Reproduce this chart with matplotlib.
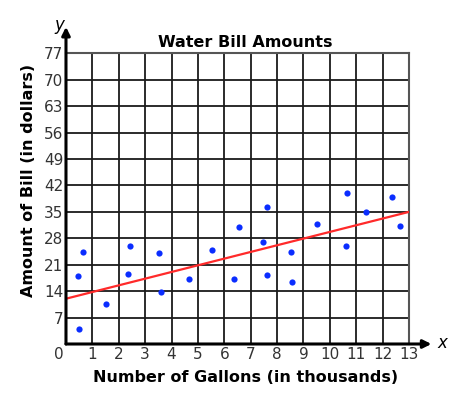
import matplotlib.pyplot as plt

# data
gallons = [0.45, 0.63, 0.5, 1.5, 2.34, 2.44, 3.53, 3.62, 4.67, 5.52, 6.38, 6.54,
           7.63, 7.48, 7.63, 8.51, 8.57, 9.52, 10.66, 10.6, 11.36, 12.36, 12.65]
bill = [18, 24.3, 4, 10.6, 18.6, 26, 24, 13.7, 17.3, 25, 17.3, 31,
        36.3, 27, 18.3, 24.3, 16.3, 31.9, 39.9, 26, 35, 38.9, 31.3]
fit_x = [0, 13]
fit_y = [12, 35]
x_ticks = list(range(1, 14))
y_ticks = [7, 14, 21, 28, 35, 42, 49, 56, 63, 70, 77]

fig = plt.figure(figsize=(4.72, 3.97), dpi=100)
ax = fig.add_axes([0.1398, 0.1335, 0.7267, 0.7322])
ax.set_xlim(0, 13)
ax.set_ylim(0, 77)

# grid
for xv in x_ticks[:-1]:
    ax.axvline(xv, color='#1a1a1a', lw=1.3, zorder=1)
for yv in y_ticks[:-1]:
    ax.axhline(yv, color='#1a1a1a', lw=1.3, zorder=1)
for s in ['top', 'right']:
    ax.spines[s].set_color('#555555')
    ax.spines[s].set_linewidth(1.5)
for s in ['left', 'bottom']:
    ax.spines[s].set_visible(False)

# axes with arrows
ax.annotate('', xy=(13.85, 0), xytext=(0, 0), annotation_clip=False,
            arrowprops=dict(arrowstyle='-|>', color='black', lw=2.2, mutation_scale=12,
                            shrinkA=0, shrinkB=0), zorder=4)
ax.annotate('', xy=(0, 84), xytext=(0, 0), annotation_clip=False,
            arrowprops=dict(arrowstyle='-|>', color='black', lw=2.2, mutation_scale=12,
                            shrinkA=0, shrinkB=0), zorder=4)

ax.plot(fit_x, fit_y, color='#ff2a2a', lw=1.6, zorder=3)
ax.scatter(gallons, bill, s=20, color='#0a2dff', zorder=5, linewidths=0)

ax.set_xticks(x_ticks)
ax.set_yticks(y_ticks)
ax.tick_params(length=0, labelsize=11, labelcolor='#333333', pad=2)
ax.text(-0.27, -0.8, '0', ha='center', va='top', fontsize=11, color='#333333')

ax.text(-0.25, 84.5, 'y', style='italic', fontsize=12, ha='center', va='center')
ax.text(14.25, 0.3, 'x', style='italic', fontsize=12, ha='center', va='center')

fig.text(0.519, 0.892, 'Water Bill Amounts', fontsize=11.5, fontweight='bold',
         ha='center', va='center')
ax.set_xlabel('Number of Gallons (in thousands)', fontsize=11.5, fontweight='bold')
ax.xaxis.set_label_coords(0.525, -0.089)
ax.set_ylabel('Amount of Bill (in dollars)', fontsize=11.5, fontweight='bold')
ax.yaxis.set_label_coords(-0.088, 0.561)

fig.savefig('out.png', dpi=100)
